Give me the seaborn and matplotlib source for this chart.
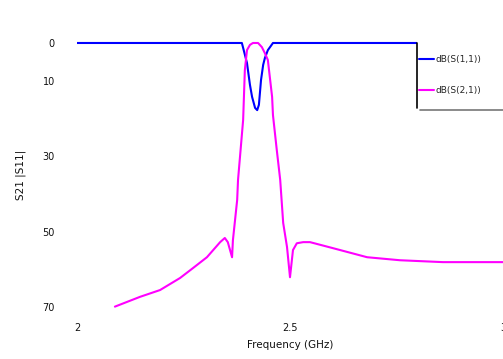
import numpy as np
import pandas as pd
import matplotlib
matplotlib.use("Agg")
import matplotlib.pyplot as plt
from matplotlib.lines import Line2D
from matplotlib.patches import Rectangle
import seaborn as sns

# ---- data ----
s11_freq = [2.0, 2.387, 2.390, 2.399, 2.406, 2.411, 2.418, 2.423, 2.427,
            2.432, 2.437, 2.441, 2.448, 2.460, 3.0]
s11_db = [0.0, 0.0, -1.3, -5.3, -11.1, -14.3, -17.2, -17.8, -16.4,
          -9.8, -5.8, -4.0, -1.9, 0.0, 0.0]

s21_freq = [2.089, 2.148, 2.195, 2.242, 2.272, 2.305, 2.336, 2.347, 2.354,
            2.364, 2.366, 2.376, 2.378, 2.390, 2.394, 2.399, 2.406, 2.413,
            2.425, 2.434, 2.441, 2.448, 2.458, 2.460, 2.469, 2.477, 2.484,
            2.493, 2.500, 2.507, 2.516, 2.531, 2.547, 2.601, 2.681, 2.758,
            2.859, 3.0]
s21_db = [-69.9, -67.3, -65.5, -62.3, -59.7, -56.8, -52.8, -51.7, -52.8,
          -56.8, -52.3, -41.6, -36.3, -20.4, -7.2, -1.9, -0.5, 0.0,
          0.0, -1.1, -2.7, -4.5, -14.3, -19.1, -28.4, -36.3, -47.7,
          -54.1, -62.1, -54.9, -53.1, -52.8, -52.8, -54.4, -56.8, -57.6,
          -58.1, -58.1]

series_names = ["dB(S(1,1))", "dB(S(2,1))"]
series_colors = ["#0000ff", "#ff00ff"]

x_ticks = [2.0, 2.5, 3.0]
x_tick_labels = ["2", "2.5", "3"]
y_ticks = [0, -10, -30, -50, -70]
y_tick_labels = ["0", "10", "30", "50", "70"]

df = pd.concat([
    pd.DataFrame({"freq": s11_freq, "db": s11_db, "trace": series_names[0]}),
    pd.DataFrame({"freq": s21_freq, "db": s21_db, "trace": series_names[1]}),
], ignore_index=True)

sns.set_theme(style="white")
plt.rcParams["font.family"] = ["DejaVu Sans"]

W, H = 503, 359
fig = plt.figure(figsize=(W / 100, H / 100), dpi=100)
ax = fig.add_axes([77 / W, 1 - 308.9 / H, 1 - 77 / W, (308.9 - 41.1) / H])

sns.lineplot(data=df, x="freq", y="db", hue="trace", palette=series_colors,
             hue_order=series_names, sort=False, estimator=None,
             linewidth=1.5, ax=ax, legend=False)

ax.set_xlim(2.0, 3.0)
ax.set_ylim(-70.5, 0.5)
ax.set_xticks(x_ticks)
ax.set_xticklabels(x_tick_labels)
ax.set_yticks(y_ticks)
ax.set_yticklabels(y_tick_labels)
ax.tick_params(axis="both", length=0, labelsize=7, colors="#111111")
ax.tick_params(axis="y", pad=16)
ax.tick_params(axis="x", pad=10)
for s in ax.spines.values():
    s.set_visible(False)
ax.set_xlabel("Frequency (GHz)", fontsize=7.5, labelpad=5, color="#111111")
ax.set_ylabel("S21 |S11|", fontsize=7.5, labelpad=12, color="#111111")

# legend box area (masks the trace behind it)
fig.add_artist(Rectangle((417 / W, 1 - 109 / H), (W - 417) / W, 70 / H,
                         transform=fig.transFigure, facecolor="white",
                         edgecolor="none", zorder=5))
fig.add_artist(Line2D([417 / W, 417 / W], [1 - 43 / H, 1 - 108 / H],
                      transform=fig.transFigure, color="black", lw=1.2, zorder=6))
fig.add_artist(Line2D([420 / W, 1.0], [1 - 110 / H, 1 - 110 / H],
                      transform=fig.transFigure, color="#777777", lw=1.2, zorder=6))

handles = [Line2D([], [], color=c, lw=1.5) for c in series_colors]
fig.legend(handles, series_names, loc="upper left",
           bbox_to_anchor=(419 / W, 1 - 55 / H), frameon=False, fontsize=6.5,
           handlelength=1.7, handletextpad=0.15, labelspacing=2.4,
           borderpad=0.0, borderaxespad=0.0).set_zorder(7)

fig.savefig("out.png", dpi=100, facecolor="white")
